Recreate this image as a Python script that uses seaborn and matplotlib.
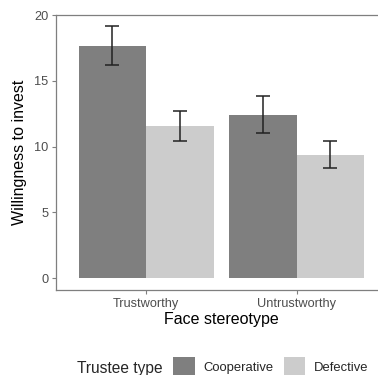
import matplotlib
matplotlib.use("Agg")
import matplotlib.pyplot as plt
import seaborn as sns
import pandas as pd
from matplotlib.patches import Patch

# Data
stereotypes = ["Trustworthy", "Untrustworthy"]
trustee_types = ["Cooperative", "Defective"]
means_coop = [17.65, 12.43]
means_def = [11.6, 9.39]
err_low_coop = [16.2, 11.02]
err_high_coop = [19.15, 13.88]
err_low_def = [10.46, 8.38]
err_high_def = [12.74, 10.43]

sns.set_style("white")
plt.rcParams['font.family'] = ['Liberation Sans', 'DejaVu Sans']

df = pd.DataFrame({
    "Face stereotype": stereotypes * 2,
    "Trustee type": [trustee_types[0]] * 2 + [trustee_types[1]] * 2,
    "value": means_coop + means_def,
})
lows = err_low_coop + err_low_def
highs = err_high_coop + err_high_def

colors = {"Cooperative": "#7f7f7f", "Defective": "#cccccc"}

W, H = 378, 375
fig = plt.figure(figsize=(W / 100, H / 100), dpi=100)
ax = fig.add_axes([56 / W, 1 - 290 / H, 330.7 / W, 275 / H])

sns.barplot(data=df, x="Face stereotype", y="value", hue="Trustee type",
            hue_order=trustee_types, order=stereotypes, palette=colors,
            width=0.9, errorbar=None, saturation=1, linewidth=0,
            legend=False, ax=ax)

# error bars at bar centres
bars = [p for p in ax.patches if p.get_height() > 0]
bars_sorted = sorted(bars, key=lambda p: p.get_x())
order_idx = [0, 2, 1, 3]  # sorted bar -> df row
for bar, i in zip(bars_sorted, order_idx):
    cx = bar.get_x() + bar.get_width() / 2
    m = df["value"].iloc[i]
    ax.errorbar([cx], [m], yerr=[[m - lows[i]], [highs[i] - m]], fmt="none",
                ecolor="#222222", elinewidth=1.1, capsize=5.2, capthick=1.1)

ax.set_xlim(-0.6, 1.6)
ax.set_ylim(-0.9, 20)
ax.set_yticks([0, 5, 10, 15, 20])
ax.set_xlabel("Face stereotype", fontsize=11.5, color="black", labelpad=2)
ax.set_ylabel("Willingness to invest", fontsize=11.5, color="black", labelpad=5)
ax.tick_params(axis="both", labelsize=9.2, labelcolor="#4d4d4d", color="#7f7f7f",
               length=3, width=0.8, pad=2.5, left=True, bottom=True)
for s in ax.spines.values():
    s.set_color("#7f7f7f")
    s.set_linewidth(0.9)
    s.set_visible(True)
ax.spines["right"].set_visible(False)

# legend at bottom with title on left
fig.text(77 / W, 1 - 369 / H, "Trustee type", fontsize=11.2, va="center", ha="left")
handles = [Patch(facecolor=colors[t], edgecolor="none") for t in trustee_types]
fig.legend(handles, trustee_types, loc="center left",
           bbox_to_anchor=(173 / W, 1 - 367 / H), ncol=2, frameon=False,
           fontsize=9.4, handlelength=1.65, handleheight=2.0, handletextpad=0.7,
           columnspacing=0.75, borderaxespad=0, borderpad=0)

fig.savefig("out.png", dpi=100)
